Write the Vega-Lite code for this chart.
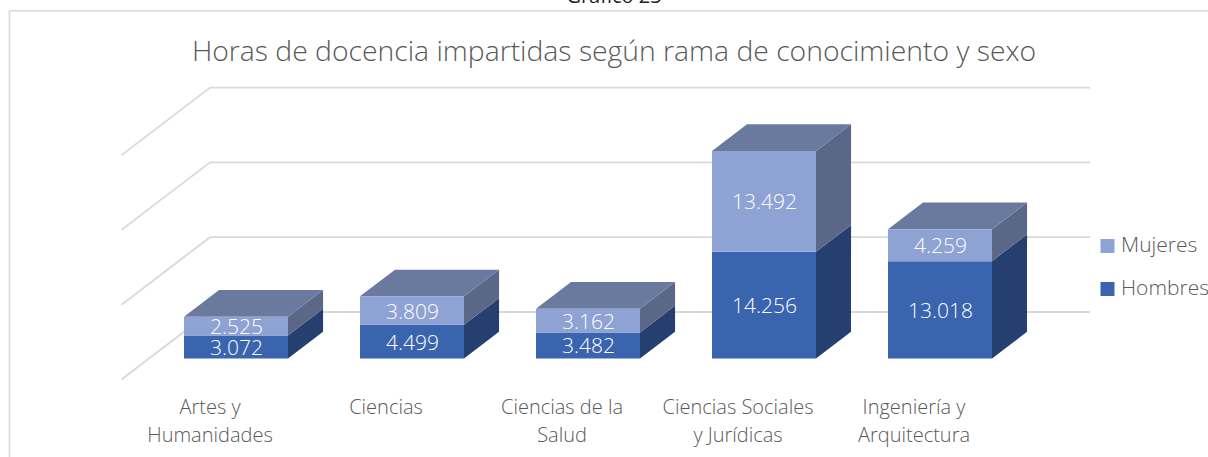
{"$schema":"https://vega.github.io/schema/vega-lite/v6.json","autosize":"none","padding":0,"width":1208,"height":457,"background":"white","view":{"stroke":null},
"title":{"text":"Horas de docencia impartidas según rama de conocimiento y sexo","font":"Open Sans","fontWeight":300,"fontSize":28.3,"color":"#595959","anchor":"middle","offset":-80,"dx":10},
"datasets":{"horas":[
{"rama":"Artes y Humanidades","i":0,"sexo":"Hombres","orden":0,"horas":3072},
{"rama":"Artes y Humanidades","i":0,"sexo":"Mujeres","orden":1,"horas":2525},
{"rama":"Ciencias","i":1,"sexo":"Hombres","orden":0,"horas":4499},
{"rama":"Ciencias","i":1,"sexo":"Mujeres","orden":1,"horas":3809},
{"rama":"Ciencias de la Salud","i":2,"sexo":"Hombres","orden":0,"horas":3482},
{"rama":"Ciencias de la Salud","i":2,"sexo":"Mujeres","orden":1,"horas":3162},
{"rama":"Ciencias Sociales y Jurídicas","i":3,"sexo":"Hombres","orden":0,"horas":14256},
{"rama":"Ciencias Sociales y Jurídicas","i":3,"sexo":"Mujeres","orden":1,"horas":13492},
{"rama":"Ingeniería y Arquitectura","i":4,"sexo":"Hombres","orden":0,"horas":13018},
{"rama":"Ingeniería y Arquitectura","i":4,"sexo":"Mujeres","orden":1,"horas":4259}],
"niveles":[{"nivel":0},{"nivel":10000},{"nivel":20000},{"nivel":30000}]},
"encoding":{
"x":{"field":"x","type":"quantitative","scale":{"domain":[-1.3409,5.5227],"nice":false,"zero":false},"axis":{"values":[0,1,2,3,4],"title":null,"grid":false,"domain":false,"ticks":false,"offset":-60,"labelPadding":0,"labelOffset":-26.5,"labelFont":"Open Sans","labelFontWeight":300,"labelFontSize":20,"labelColor":"#595959","labelLineHeight":28,"labelBaseline":"top","labelAlign":"center","labelOverlap":false,"labelFlush":false,"labelBound":false,
"labelExpr":"datum.value===0?['Artes y','Humanidades']:datum.value===1?'Ciencias':datum.value===2?['Ciencias de la','Salud']:datum.value===3?['Ciencias Sociales','y Jurídicas']:['Ingeniería y','Arquitectura']"}},
"y":{"field":"y","type":"quantitative","stack":null,"scale":{"domain":[-13168,47928],"nice":false,"zero":false},"axis":null}},
"layer":[
{"data":{"name":"niveles"},"transform":[{"calculate":"-0.1477","as":"x"},{"calculate":"4.8523","as":"x2"},{"calculate":"datum.nivel+6217","as":"y"},{"calculate":"datum.y","as":"y2"}],
"mark":{"type":"rule","color":"#d9d9d9","strokeWidth":1.8},"encoding":{"x2":{"field":"x2"},"y2":{"field":"y2"}}},
{"data":{"name":"niveles"},"transform":[{"calculate":"-0.6506","as":"x"},{"calculate":"-0.1477","as":"x2"},{"calculate":"datum.nivel+6217-9024","as":"y"},{"calculate":"datum.nivel+6217","as":"y2"}],
"mark":{"type":"rule","color":"#d9d9d9","strokeWidth":1.8},"encoding":{"x2":{"field":"x2"},"y2":{"field":"y2"}}},
{"data":{"values":[{"borde":"izquierdo"}]},"transform":[{"calculate":"-1.2869","as":"x"},{"calculate":"-1.2869","as":"x2"},{"calculate":"46497","as":"y"},{"calculate":"-13168","as":"y2"}],
"mark":{"type":"rule","color":"#d9d9d9","strokeWidth":1.6},"encoding":{"x2":{"field":"x2"},"y2":{"field":"y2"}}},
{"data":{"values":[{"borde":"superior"}]},"transform":[{"calculate":"-1.2869","as":"x"},{"calculate":"5.5227","as":"x2"},{"calculate":"46497","as":"y"},{"calculate":"46497","as":"y2"}],
"mark":{"type":"rule","color":"#d9d9d9","strokeWidth":1.6},"encoding":{"x2":{"field":"x2"},"y2":{"field":"y2"}}},
{"data":{"name":"horas"},"transform":[{"stack":"horas","groupby":["rama"],"sort":[{"field":"orden","order":"ascending"}],"as":["y0","y1"]},{"filter":"datum.sexo==='Hombres'"},{"calculate":"[0,1]","as":"v"},{"flatten":["v"]},{"calculate":"datum.i+0.2955+0.199*datum.v","as":"x"},{"calculate":"datum.y0+3570*datum.v","as":"y2"},{"calculate":"datum.y1+3570*datum.v","as":"y"}],
"mark":{"type":"area","color":"#243f70","interpolate":"linear"},"encoding":{"y2":{"field":"y2"},"detail":{"field":"rama"}}},
{"data":{"name":"horas"},"transform":[{"stack":"horas","groupby":["rama"],"sort":[{"field":"orden","order":"ascending"}],"as":["y0","y1"]},{"filter":"datum.sexo==='Mujeres'"},{"calculate":"[0,1]","as":"v"},{"flatten":["v"]},{"calculate":"datum.i+0.2955+0.199*datum.v","as":"x"},{"calculate":"datum.y0+3570*datum.v","as":"y2"},{"calculate":"datum.y1+3570*datum.v","as":"y"}],
"mark":{"type":"area","color":"#5b6787","interpolate":"linear"},"encoding":{"y2":{"field":"y2"},"detail":{"field":"rama"}}},
{"data":{"name":"horas"},"transform":[{"stack":"horas","groupby":["rama"],"sort":[{"field":"orden","order":"ascending"}],"as":["y0","y1"]},{"filter":"datum.sexo==='Mujeres'"},{"calculate":"[0,1,2,3]","as":"v"},{"flatten":["v"]},{"calculate":"datum.i+[-0.2955,-0.2955+0.199,0.2955,0.2955+0.199][datum.v]","as":"x"},{"calculate":"datum.y1+[0,3570,3570,3570][datum.v]","as":"y"},{"calculate":"datum.y1+[0,0,0,3570][datum.v]","as":"y2"}],
"mark":{"type":"area","color":"#6a7a9f","interpolate":"linear"},"encoding":{"y2":{"field":"y2"},"detail":{"field":"rama"}}},
{"data":{"name":"horas"},"transform":[{"stack":"horas","groupby":["rama"],"sort":[{"field":"orden","order":"ascending"}],"as":["y0","y1"]},{"calculate":"datum.i-0.2955","as":"x"},{"calculate":"datum.i+0.2955","as":"x2"},{"calculate":"datum.y0","as":"y2"},{"calculate":"datum.y1","as":"y"}],
"mark":{"type":"rect"},"encoding":{"x2":{"field":"x2"},"y2":{"field":"y2"},
"color":{"field":"sexo","type":"nominal","scale":{"domain":["Mujeres","Hombres"],"range":["#8fa2d4","#3a64ad"]},
"legend":{"title":null,"orient":"none","legendX":1097,"legendY":235.5,"symbolType":"square","symbolSize":196,"symbolStrokeWidth":0,"labelFont":"Open Sans","labelFontWeight":300,"labelFontSize":21,"labelColor":"#595959","labelOffset":3,"rowPadding":21,"labelLimit":200,"padding":0,"symbolOpacity":1}}}},
{"data":{"name":"horas"},"transform":[{"stack":"horas","groupby":["rama"],"sort":[{"field":"orden","order":"ascending"}],"as":["y0","y1"]},{"calculate":"datum.i","as":"x"},{"calculate":"(datum.y0+datum.y1)/2","as":"y"},{"calculate":"replace(format(datum.horas,','),',','.')","as":"etiqueta"}],
"mark":{"type":"text","font":"Open Sans","fontWeight":300,"fontSize":21,"color":"#ffffff","baseline":"middle","align":"center","dy":2,"dx":0.5},"encoding":{"text":{"field":"etiqueta"}}},
{"data":{"values":[{"texto":"Gráfico 23"}]},"transform":[{"calculate":"2.148","as":"x"},{"calculate":"47528","as":"y"}],
"mark":{"type":"text","font":"Open Sans","fontSize":20,"color":"#222222","baseline":"alphabetic","align":"center"},"encoding":{"text":{"field":"texto"}}}
]}
